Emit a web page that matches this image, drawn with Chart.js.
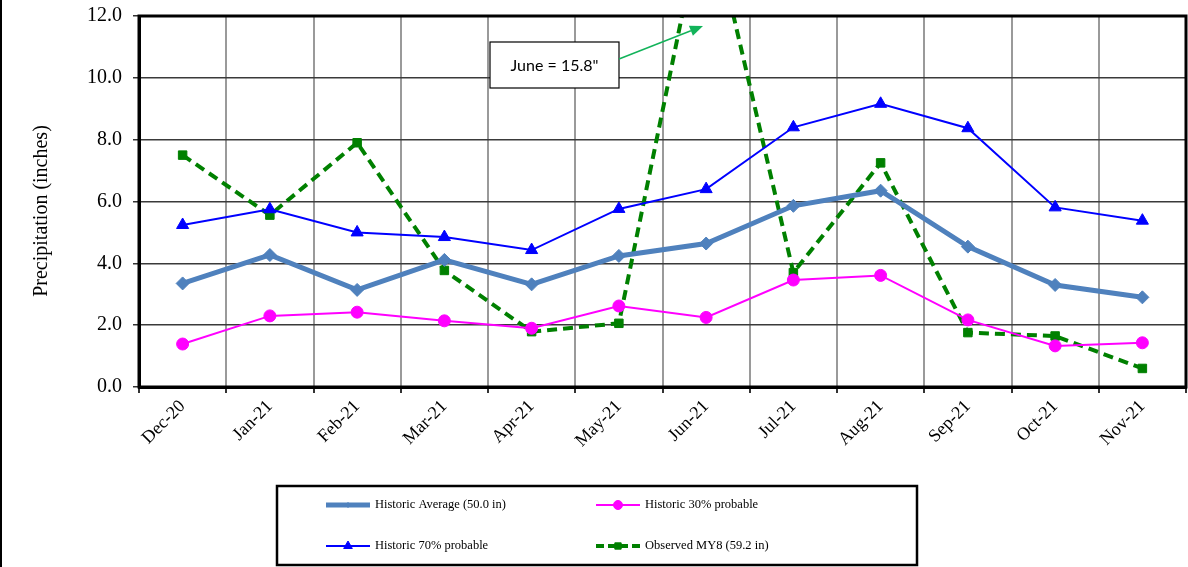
<!DOCTYPE html>
<html>
<head>
<meta charset="utf-8">
<title>Monthly Precipitation</title>
<script src="https://cdn.jsdelivr.net/npm/chart.js@4.4.1/dist/chart.umd.min.js"></script>
<style>
  html, body { margin: 0; padding: 0; background: #ffffff; }
  #wrap { width: 1188px; height: 567px; position: relative; }
</style>
</head>
<body>
<div id="wrap"><canvas id="chart"></canvas></div>
<script>
// Monthly precipitation, inches
const months = ['Dec-20', 'Jan-21', 'Feb-21', 'Mar-21', 'Apr-21', 'May-21',
                'Jun-21', 'Jul-21', 'Aug-21', 'Sep-21', 'Oct-21', 'Nov-21'];
const historicAverage = [3.35, 4.27, 3.14, 4.11, 3.32, 4.24, 4.64, 5.86, 6.35, 4.54, 3.30, 2.90];
const historic30 = [1.39, 2.30, 2.42, 2.14, 1.90, 2.62, 2.25, 3.46, 3.61, 2.17, 1.33, 1.43];
const historic70 = [5.24, 5.75, 5.00, 4.85, 4.43, 5.76, 6.40, 8.40, 9.16, 8.37, 5.81, 5.38];
const observedMY8 = [7.50, 5.56, 7.90, 3.77, 1.79, 2.06, 15.8, 3.70, 7.25, 1.76, 1.65, 0.60];
const seriesNames = ['Historic Average (50.0 in)', 'Historic 30% probable',
                     'Historic 70% probable', 'Observed MY8 (59.2 in)'];
const yAxisTitle = 'Precipitation (inches)';
const juneNote = 'June = 15.8"';

const SERIF = '"Liberation Serif", "Times New Roman", serif';

// Outer frame of the plot area, left page rule, rotated y title
const framePlugin = {
  id: 'frame',
  afterDatasetsDraw(chart) {
    const { ctx, chartArea: a } = chart;
    ctx.save();
    ctx.strokeStyle = '#000';
    ctx.lineWidth = 3;
    ctx.strokeRect(a.left, a.top, a.right - a.left, a.bottom - a.top);
    ctx.restore();
  },
  afterDraw(chart) {
    const { ctx } = chart;
    ctx.save();
    ctx.fillStyle = '#000';
    ctx.fillRect(0, 0, 2, chart.height);
    ctx.translate(42, 211);
    ctx.rotate(-Math.PI / 2);
    ctx.font = '20px ' + SERIF;
    ctx.textAlign = 'center';
    ctx.textBaseline = 'middle';
    ctx.fillText(yAxisTitle, 0, 0);
    ctx.restore();
  }
};

// Callout box with arrow pointing at the off-scale June value
const notePlugin = {
  id: 'note',
  afterDraw(chart) {
    const { ctx } = chart;
    ctx.save();
    const bx = 490, by = 42, bw = 129, bh = 46;
    ctx.fillStyle = '#fff';
    ctx.fillRect(bx, by, bw, bh);
    ctx.strokeStyle = '#000';
    ctx.lineWidth = 1.2;
    ctx.strokeRect(bx, by, bw, bh);
    ctx.fillStyle = '#000';
    ctx.font = '16px Lato, "Liberation Sans", sans-serif';
    ctx.textAlign = 'center';
    ctx.textBaseline = 'middle';
    ctx.fillText(juneNote, bx + bw / 2, by + bh / 2 + 1);
    // arrow
    const x0 = bx + bw, y0 = 59, x1 = 703, y1 = 26;
    const ang = Math.atan2(y1 - y0, x1 - x0);
    const hl = 13, hw = 5.5;
    const bxh = x1 - hl * Math.cos(ang), byh = y1 - hl * Math.sin(ang);
    ctx.strokeStyle = '#12b35a';
    ctx.fillStyle = '#12b35a';
    ctx.lineWidth = 1.5;
    ctx.beginPath();
    ctx.moveTo(x0, y0);
    ctx.lineTo(bxh, byh);
    ctx.stroke();
    ctx.beginPath();
    ctx.moveTo(x1, y1);
    ctx.lineTo(bxh + hw * Math.sin(ang), byh - hw * Math.cos(ang));
    ctx.lineTo(bxh - hw * Math.sin(ang), byh + hw * Math.cos(ang));
    ctx.closePath();
    ctx.fill();
    ctx.restore();
  }
};

// Boxed two-column legend under the axis
const legendPlugin = {
  id: 'boxLegend',
  afterDraw(chart) {
    const { ctx } = chart;
    ctx.save();
    ctx.strokeStyle = '#000';
    ctx.lineWidth = 2.5;
    ctx.strokeRect(277, 486, 640, 79);
    const slots = [
      { x: 326, y: 505 }, { x: 596, y: 505 },
      { x: 326, y: 546 }, { x: 596, y: 546 }
    ];
    const markerSize = [2.5, 4.5, 5, 4.5];
    chart.data.datasets.forEach((ds, i) => {
      const s = slots[i];
      const len = 44;
      ctx.save();
      ctx.strokeStyle = ds.borderColor;
      ctx.lineWidth = ds.borderWidth;
      ctx.setLineDash(ds.borderDash ? [8, 4] : []);
      ctx.beginPath();
      ctx.moveTo(s.x, s.y);
      ctx.lineTo(s.x + len, s.y);
      ctx.stroke();
      ctx.setLineDash([]);
      ctx.fillStyle = ds.pointBackgroundColor;
      ctx.strokeStyle = ds.pointBorderColor;
      ctx.lineWidth = 1;
      Chart.helpers.drawPoint(ctx, {
        pointStyle: ds.pointStyle,
        radius: markerSize[i],
        borderWidth: 1,
        rotation: 0
      }, s.x + len / 2, s.y);
      ctx.restore();
      ctx.fillStyle = '#000';
      ctx.font = '12.5px ' + SERIF;
      ctx.textAlign = 'left';
      ctx.textBaseline = 'middle';
      ctx.fillText(ds.label, s.x + len + 5, s.y);
    });
    ctx.restore();
  }
};

const lineSet = (label, data, color, width, style, radius, extra) => Object.assign({
  label, data,
  borderColor: color,
  backgroundColor: color,
  borderWidth: width,
  pointStyle: style,
  pointRadius: radius,
  pointHoverRadius: radius,
  pointBackgroundColor: color,
  pointBorderColor: color,
  pointBorderWidth: 1,
  tension: 0,
  fill: false
}, extra || {});

new Chart(document.getElementById('chart'), {
  type: 'line',
  data: {
    labels: months,
    datasets: [
      lineSet(seriesNames[0], historicAverage, '#4f81bd', 5, 'rectRot', 6.5),
      lineSet(seriesNames[1], historic30, '#ff00ff', 2, 'circle', 6),
      lineSet(seriesNames[2], historic70, '#0000ff', 2, 'triangle', 7),
      lineSet(seriesNames[3], observedMY8, '#008000', 4, 'rect', 6, { borderDash: [10, 6] })
    ]
  },
  options: {
    responsive: true,
    maintainAspectRatio: false,
    animation: false,
    events: [],
    layout: { autoPadding: false, padding: { top: 16, right: 2, bottom: 100, left: 0 } },
    plugins: {
      legend: { display: false },
      tooltip: { enabled: false },
      title: { display: false }
    },
    scales: {
      x: {
        offset: true,
        grid: {
          offset: true,
          color: '#9a9a9a',
          lineWidth: 2,
          drawTicks: true,
          tickLength: 6,
          tickColor: '#333'
        },
        border: { display: true, color: '#000', width: 3 },
        ticks: {
          autoSkip: false,
          maxRotation: 45,
          minRotation: 45,
          padding: 3,
          color: '#000',
          font: { family: SERIF, size: 18 }
        },
        afterFit(scale) {
          scale.height = 80;
          scale.paddingLeft = 0;
          scale.paddingRight = 0;
        }
      },
      y: {
        min: 0,
        max: 12,
        grid: {
          color: '#3a3a3a',
          lineWidth: 1.5,
          drawTicks: true,
          tickLength: 6,
          tickColor: '#333'
        },
        border: { display: true, color: '#000', width: 3 },
        ticks: {
          stepSize: 2,
          padding: 11,
          color: '#000',
          font: { family: SERIF, size: 20 },
          callback: (v) => Number(v).toFixed(1)
        },
        afterFit(scale) {
          scale.width = 139;
          scale.paddingTop = 0;
          scale.paddingBottom = 0;
        }
      }
    }
  },
  plugins: [framePlugin, notePlugin, legendPlugin]
});
</script>
</body>
</html>
